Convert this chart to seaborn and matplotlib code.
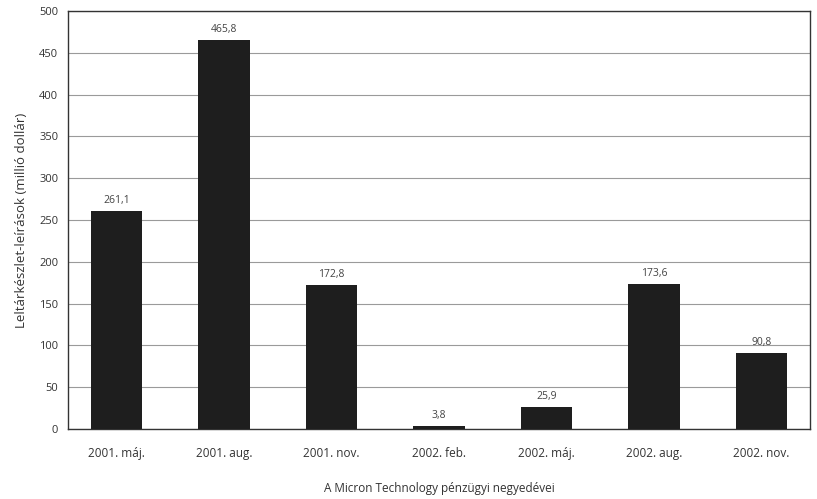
import matplotlib
matplotlib.use("Agg")
import matplotlib.pyplot as plt
import seaborn as sns
import pandas as pd

quarters = ["2001. máj.", "2001. aug.", "2001. nov.", "2002. feb.",
            "2002. máj.", "2002. aug.", "2002. nov."]
writedowns = [261.1, 465.8, 172.8, 3.8, 25.9, 173.6, 90.8]
value_labels = ["261,1", "465,8", "172,8", "3,8", "25,9", "173,6", "90,8"]
y_ticks = [0, 50, 100, 150, 200, 250, 300, 350, 400, 450, 500]

df = pd.DataFrame({"negyedev": quarters, "ertek": writedowns})

sns.set_theme(style="white")
plt.rcParams["font.family"] = ["Open Sans", "DejaVu Sans"]

fig = plt.figure(figsize=(8.17, 4.99), dpi=100)
ax = fig.add_axes([0.0832, 0.1403, 0.9082, 0.8377])

sns.barplot(data=df, x="negyedev", y="ertek", color="#1e1e1e",
            width=0.48, saturation=1, linewidth=0, ax=ax, zorder=3)

ax.set_ylim(0, 500)
ax.set_yticks(y_ticks)
ax.set_yticklabels([str(t) for t in y_ticks], fontsize=8, color="#333333")
ax.yaxis.grid(True, color="#9a9a9a", linewidth=0.8, zorder=0)
ax.set_axisbelow(True)

# category boundary ticks on the x axis
ax.set_xticks(range(len(quarters)))
ax.set_xticklabels(quarters, fontsize=8.5, color="#333333")
ax.tick_params(axis="x", length=0, pad=13)
ax.set_xticks([i + 0.5 for i in range(-1, len(quarters))], minor=True)
ax.tick_params(axis="x", which="minor", length=3, color="#555555", direction="out")
ax.tick_params(axis="y", length=3, color="#555555", direction="out", pad=4)
ax.set_xlim(-0.45, len(quarters) - 0.55)

for spine in ax.spines.values():
    spine.set_visible(True)
    spine.set_color("#333333")
    spine.set_linewidth(1.0)

for i, (v, lab) in enumerate(zip(writedowns, value_labels)):
    ax.text(i, v + 6, lab, ha="center", va="bottom", fontsize=7.5, color="#444444")

ax.set_ylabel("Leltárkészlet-leírások (millió dollár)", fontsize=9.5,
              color="#333333", labelpad=8)
ax.set_xlabel("A Micron Technology pénzügyi negyedévei", fontsize=8.5,
              color="#333333", labelpad=16)

fig.savefig("out.png", dpi=100, facecolor="white")
